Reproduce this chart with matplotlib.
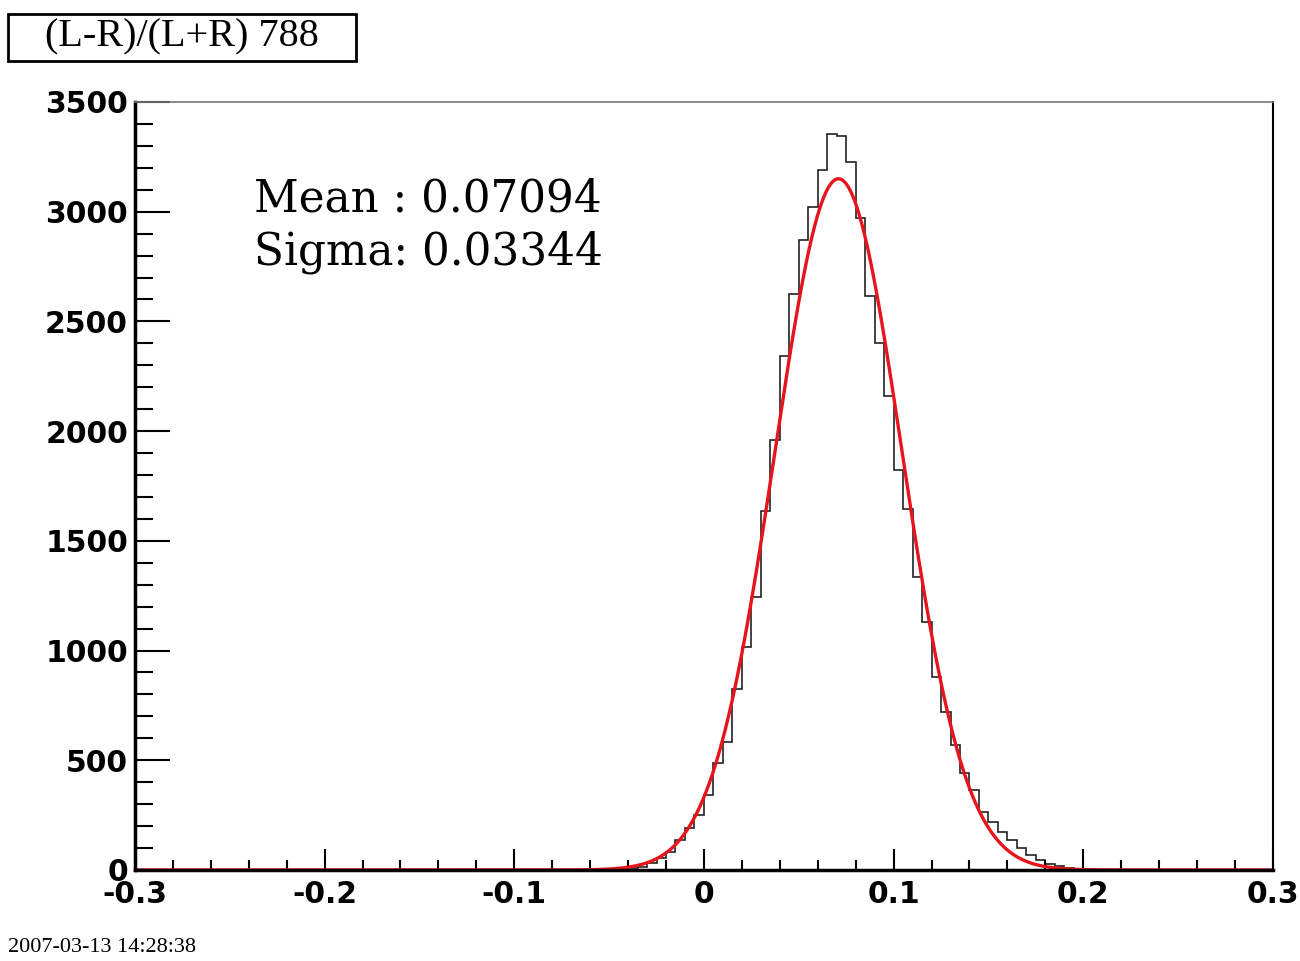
import numpy as np
import matplotlib
matplotlib.use("Agg")
from matplotlib import pyplot as plt
from matplotlib.patches import Rectangle

#######################################
# Histogram data
#######################################

# bin edges : 120 bins of 0.005 on [-0.3, 0.3]
x_min, x_max, bin_w = -0.3, 0.3, 0.005
edges = np.round(np.arange(x_min, x_max + bin_w / 2, bin_w), 4)

# non-empty bins start at -0.05
first_edge = -0.05
counts_nonzero = [1, 3, 7, 15, 30, 55, 84, 137, 190, 251,
                  342, 489, 585, 824, 1018, 1246, 1638, 1958, 2341, 2626,
                  2873, 3022, 3192, 3356, 3347, 3227, 2969, 2614, 2402, 2158,
                  1824, 1645, 1335, 1130, 881, 719, 570, 441, 365, 266,
                  220, 175, 137, 99, 68, 46, 28, 16, 9, 5,
                  3, 1]

counts = np.zeros(len(edges) - 1)
i0 = int(round((first_edge - x_min) / bin_w))
counts[i0:i0 + len(counts_nonzero)] = counts_nonzero

# gaussian fit parameters
fit_amp = 3150
fit_mean = 0.07094
fit_sigma = 0.03344

title_text = "(L-R)/(L+R) 788"
stamp_text = "2007-03-13 14:28:38"

###############################
# Figure
###############################

fig = plt.figure(figsize=(13, 9.61), dpi=100)
ax = fig.add_axes([0.1038, 0.0947, 0.8754, 0.7992])

ax.stairs(counts, edges, color="#222222", lw=1.2)

xf = np.linspace(x_min, x_max, 1200)
yf = fit_amp * np.exp(-0.5 * ((xf - fit_mean) / fit_sigma) ** 2)
ax.plot(xf, yf, color="#e8141c", lw=2.4)

ax.set_xlim(x_min, x_max)
ax.set_ylim(0, 3500)

ax.set_xticks(np.arange(-0.3, 0.31, 0.1))
ax.set_xticks(np.arange(-0.3, 0.31, 0.02), minor=True)
ax.set_xticklabels(["-0.3", "-0.2", "-0.1", "0", "0.1", "0.2", "0.3"])
ax.set_yticks(np.arange(0, 3501, 500))
ax.set_yticks(np.arange(0, 3501, 100), minor=True)

ax.tick_params(axis="x", which="major", direction="in", length=15, width=1.5,
               pad=7, labelsize=21.5)
ax.tick_params(axis="x", which="minor", direction="in", length=7, width=1.5)
ax.tick_params(axis="y", which="major", direction="in", length=25, width=1.5,
               pad=5, labelsize=21.5)
ax.tick_params(axis="y", which="minor", direction="in", length=13, width=1.5)
for lab in ax.get_xticklabels() + ax.get_yticklabels():
    lab.set_fontfamily("DejaVu Sans")
    lab.set_fontweight("bold")

ax.spines["left"].set_linewidth(2.5)
ax.spines["bottom"].set_linewidth(2.5)
ax.spines["top"].set_linewidth(1.2)
ax.spines["top"].set_color("#777777")
ax.spines["right"].set_linewidth(1.5)

ax.text(0.105, 0.902, "Mean : {:.5f}\nSigma: {:.5f}".format(fit_mean, fit_sigma),
        transform=ax.transAxes, ha="left", va="top", fontsize=31.5,
        family="DejaVu Serif", linespacing=1.3)

# title box
fig.patches.append(Rectangle((8 / 1300, 1 - 61 / 961), 348 / 1300, 47 / 961,
                             transform=fig.transFigure, fill=False,
                             edgecolor="black", lw=2))
fig.text(182 / 1300, 1 - 37 / 961, title_text, ha="center", va="center",
         fontsize=29, family="Liberation Serif")

fig.text(8 / 1300, 1 - 947 / 961, stamp_text, ha="left", va="center",
         fontsize=16, family="Liberation Serif")

plt.savefig("out.png", dpi=100, facecolor="white")
